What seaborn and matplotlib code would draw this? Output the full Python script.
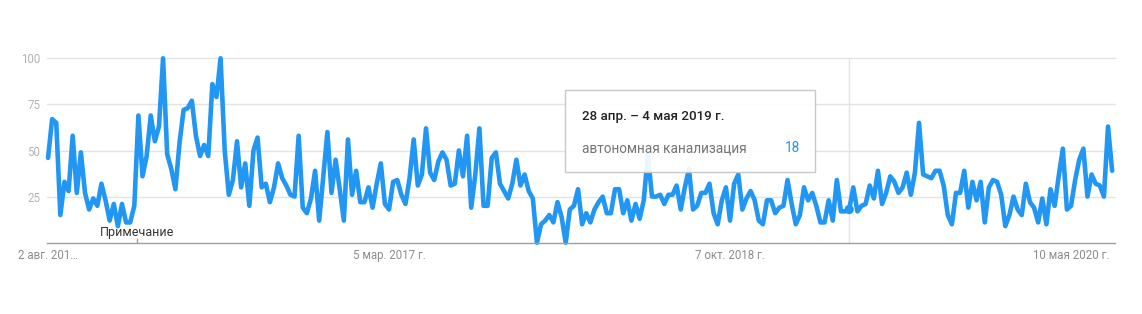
import numpy as np
import pandas as pd
import matplotlib
matplotlib.use("Agg")
import matplotlib.pyplot as plt
import matplotlib.patches as mpatches
import seaborn as sns

# ---------------- data ----------------
start_week = "2015-08-02"
series_name = "автономная канализация"
values = [
    46, 67, 65, 15, 33, 28, 58, 27, 49, 27,
    18, 24, 20, 32, 23, 12, 21, 9, 21, 11,
    11, 20, 69, 36, 47, 69, 55, 63, 100, 48,
    40, 29, 54, 72, 73, 77, 58, 47, 53, 47,
    86, 79, 100, 50, 26, 34, 55, 30, 43, 20,
    50, 57, 30, 32, 22, 30, 43, 35, 31, 26,
    25, 58, 19, 16, 24, 39, 12, 36, 60, 27,
    45, 29, 12, 56, 26, 39, 22, 22, 30, 19,
    32, 43, 21, 18, 33, 34, 26, 21, 35, 56,
    31, 37, 62, 38, 34, 44, 49, 45, 31, 32,
    50, 36, 58, 19, 37, 62, 20, 20, 46, 49,
    32, 28, 24, 32, 45, 31, 37, 28, 24, 0,
    10, 12, 15, 11, 22, 14, 0, 18, 20, 29,
    10, 16, 11, 18, 22, 25, 16, 16, 29, 29,
    16, 23, 12, 21, 13, 23, 48, 25, 25, 26,
    21, 26, 26, 31, 18, 30, 40, 18, 20, 27,
    27, 32, 16, 10, 23, 30, 12, 32, 37, 18,
    24, 28, 23, 12, 10, 23, 23, 16, 19, 20,
    34, 21, 10, 15, 30, 23, 27, 20, 11, 11,
    23, 12, 34, 17, 17, 18, 30, 17, 20, 21,
    31, 24, 39, 21, 27, 36, 33, 27, 30, 38,
    26, 38, 65, 37, 36, 35, 39, 39, 31, 15,
    10, 27, 27, 39, 19, 33, 23, 33, 11, 30,
    34, 33, 26, 9, 15, 25, 18, 15, 32, 22,
    19, 11, 24, 10, 29, 20, 36, 51, 18, 20,
    34, 45, 51, 25, 37, 32, 31, 25, 63, 39,
]
x_tick_dates = ["2015-08-02", "2017-03-05", "2018-10-07", "2020-05-10"]
x_tick_labels = ["2 авг. 201…", "5 мар. 2017 г.", "7 окт. 2018 г.", "10 мая 2020 г."]
y_ticks = [25, 50, 75, 100]
note_date = "2016-01-01"
note_label = "Примечание"
hover_index = 195
hover_label = "28 апр. – 4 мая 2019 г."

dates = pd.date_range(start_week, periods=len(values), freq="7D")
df = pd.DataFrame({"date": dates, "value": values})

# ---------------- style ----------------
sns.set_theme(style="white")
plt.rcParams["font.family"] = ["Roboto", "DejaVu Sans"]

W, H = 1142, 314
fig = plt.figure(figsize=(W / 100, H / 100), dpi=100)
fig.patch.set_facecolor("white")

def fx(x):
    return x / W

def fy(y):
    return 1 - y / H

ax_left, ax_right, ax_bottom = 47, 1115, 242.7
px_per_unit = 1.844
ymax = 110
ax_top = ax_bottom - ymax * px_per_unit
ax = fig.add_axes([fx(ax_left), fy(ax_bottom), fx(ax_right - ax_left), (ax_bottom - ax_top) / H])

LINE = "#2196F3"

# grid lines
for v in y_ticks:
    ax.axhline(v, color="#e3e3e3", lw=1, zorder=0)

# hover vertical line
ax.vlines(dates[hover_index], 0, 100, color="#e2e2e2", lw=1, zorder=0.5)

sns.lineplot(data=df, x="date", y="value", ax=ax, color=LINE, lw=3.3,
             legend=False, zorder=2)
for ln in ax.lines:
    ln.set_clip_on(False)
    ln.set_solid_joinstyle("round")

# hover dot
ax.scatter([dates[hover_index]], [values[hover_index]], s=45, color=LINE,
           zorder=3, clip_on=False, edgecolor="none")

week = pd.Timedelta(days=7)
ax.set_xlim(dates[0] - 0.25 * week, dates[-1] + 0.7 * week)
ax.set_ylim(0, ymax)

for s in ["top", "right", "left"]:
    ax.spines[s].set_visible(False)
ax.spines["bottom"].set_color("#9e9e9e")
ax.spines["bottom"].set_linewidth(1)

ax.set_yticks(y_ticks)
ax.set_yticklabels([str(v) for v in y_ticks])
ax.tick_params(axis="y", length=0, pad=5, labelsize=8.3, labelcolor="#b3b3b3")
ax.set_xticks(pd.to_datetime(x_tick_dates))
ax.set_xticklabels(x_tick_labels)
ax.tick_params(axis="x", length=0, pad=4.5, labelsize=8.3, labelcolor="#8c8c8c")
ax.set_xlabel("")
ax.set_ylabel("")
ax.grid(False)

# note marker
nd = pd.Timestamp(note_date)
ax.vlines(nd, 0, 2.4, color="#9e9e9e", lw=1, zorder=1, clip_on=False)
ax.text(nd, 5.5, note_label, ha="center", va="center", fontsize=9.0,
        color="#333333", zorder=4)

# tooltip
box = mpatches.FancyBboxPatch((fx(565), fy(171.5)), fx(815 - 565), (171.5 - 90) / H,
                              boxstyle="square,pad=0", transform=fig.transFigure,
                              facecolor="white", edgecolor="#c4c4c4", lw=1,
                              alpha=0.92, zorder=10)
fig.patches.append(box)
fig.text(fx(582), fy(116.5), hover_label, ha="left", va="center", fontsize=9.6,
         color="#222222", fontweight="medium", zorder=11)
fig.text(fx(581.5), fy(148.5), series_name, ha="left", va="center", fontsize=9.8,
         color="#757575", zorder=11)
fig.text(fx(800), fy(148.5), str(values[hover_index]), ha="right", va="center",
         fontsize=9.8, color=LINE, zorder=11)

fig.savefig("out.png", dpi=100, facecolor="white")
